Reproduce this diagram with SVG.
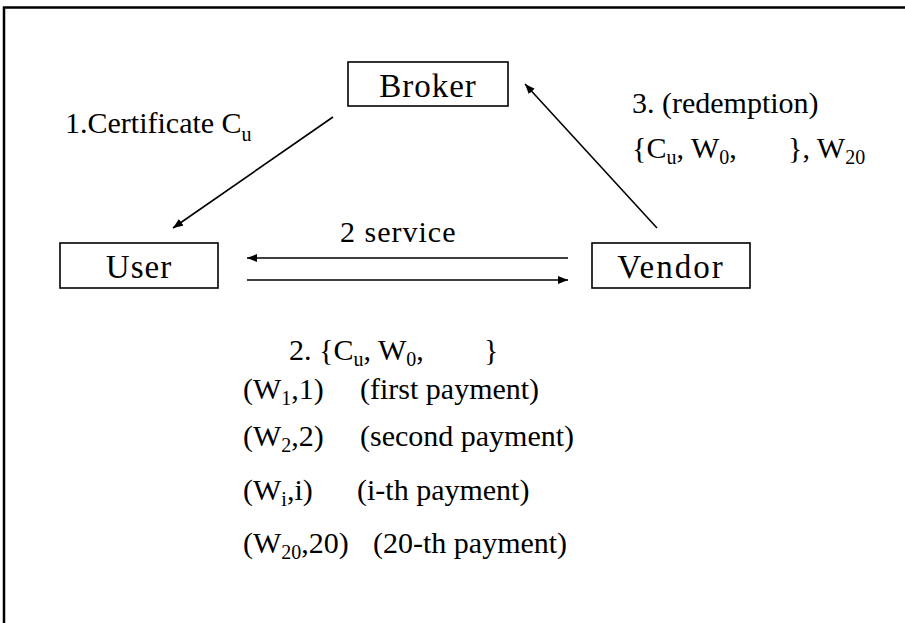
<svg xmlns="http://www.w3.org/2000/svg" width="905" height="623" viewBox="0 0 905 623" font-family="'Liberation Serif', 'Times New Roman', serif">
<style>
text{font-family:"Liberation Serif","Times New Roman",serif;fill:#000}
.box{fill:#fff;stroke:#000;stroke-width:1.6}
.lbl{font-size:33px;text-anchor:middle}
.t{font-size:30px}
.sub{font-size:20px}
.edge{stroke:#000;stroke-width:1.6;fill:none}
</style>
<defs>
<marker id="ah" viewBox="0 0 10 8" refX="10" refY="4" markerWidth="10" markerHeight="8" markerUnits="userSpaceOnUse" orient="auto">
<path d="M0,0 L10,4 L0,8 z" fill="#000"/>
</marker>
</defs>
<rect width="905" height="623" fill="#fff"/>
<path d="M4,623 V7.5 H905" fill="none" stroke="#000" stroke-width="2.5"/>

<g id="broker">
<rect class="box" x="348" y="62" width="160" height="44"/>
<text class="lbl" x="428" y="97" letter-spacing="1">Broker</text>
</g>
<g id="user">
<rect class="box" x="60" y="243" width="158" height="45"/>
<text class="lbl" x="139" y="278" letter-spacing="1">User</text>
</g>
<g id="vendor">
<rect class="box" x="592" y="243" width="158" height="45"/>
<text class="lbl" x="671" y="278" letter-spacing="2">Vendor</text>
</g>

<g id="connectors">
<line class="edge" x1="333" y1="117" x2="173" y2="228" marker-end="url(#ah)"/>
<line class="edge" x1="657" y1="228" x2="525" y2="84" marker-end="url(#ah)"/>
<line class="edge" x1="568" y1="258" x2="247" y2="258" marker-end="url(#ah)"/>
<line class="edge" x1="247" y1="280" x2="568" y2="280" marker-end="url(#ah)"/>
</g>

<g id="labels">
<text class="t" x="65" y="133">1.Certificate C<tspan class="sub" dy="8">u</tspan></text>
<text class="t" x="340" y="242" letter-spacing="1">2 service</text>
<text class="t" x="632" y="113">3. (redemption)</text>
<text class="t" x="632" y="158">{C<tspan class="sub" dy="6">u</tspan><tspan dy="-6">, W</tspan><tspan class="sub" dy="6">0</tspan><tspan dy="-6">,</tspan></text>
<text class="t" x="788" y="158">}, W<tspan class="sub" dy="6">20</tspan></text>

<text class="t" x="289" y="360">2. {C<tspan class="sub" dy="6">u</tspan><tspan dy="-6">, W</tspan><tspan class="sub" dy="6">0</tspan><tspan dy="-6">,</tspan></text>
<text class="t" x="484" y="360">}</text>

<text class="t" x="243" y="399">(W<tspan class="sub" dy="6">1</tspan><tspan dy="-6">,1)</tspan></text>
<text class="t" x="360" y="399">(first payment)</text>

<text class="t" x="243" y="446">(W<tspan class="sub" dy="6">2</tspan><tspan dy="-6">,2)</tspan></text>
<text class="t" x="360" y="446">(second payment)</text>

<text class="t" x="243" y="500">(W<tspan class="sub" dy="6">i</tspan><tspan dy="-6">,i)</tspan></text>
<text class="t" x="357" y="500">(i-th payment)</text>

<text class="t" x="243" y="553">(W<tspan class="sub" dy="6">20</tspan><tspan dy="-6">,20)</tspan></text>
<text class="t" x="373" y="553">(20-th payment)</text>
</g>
</svg>
